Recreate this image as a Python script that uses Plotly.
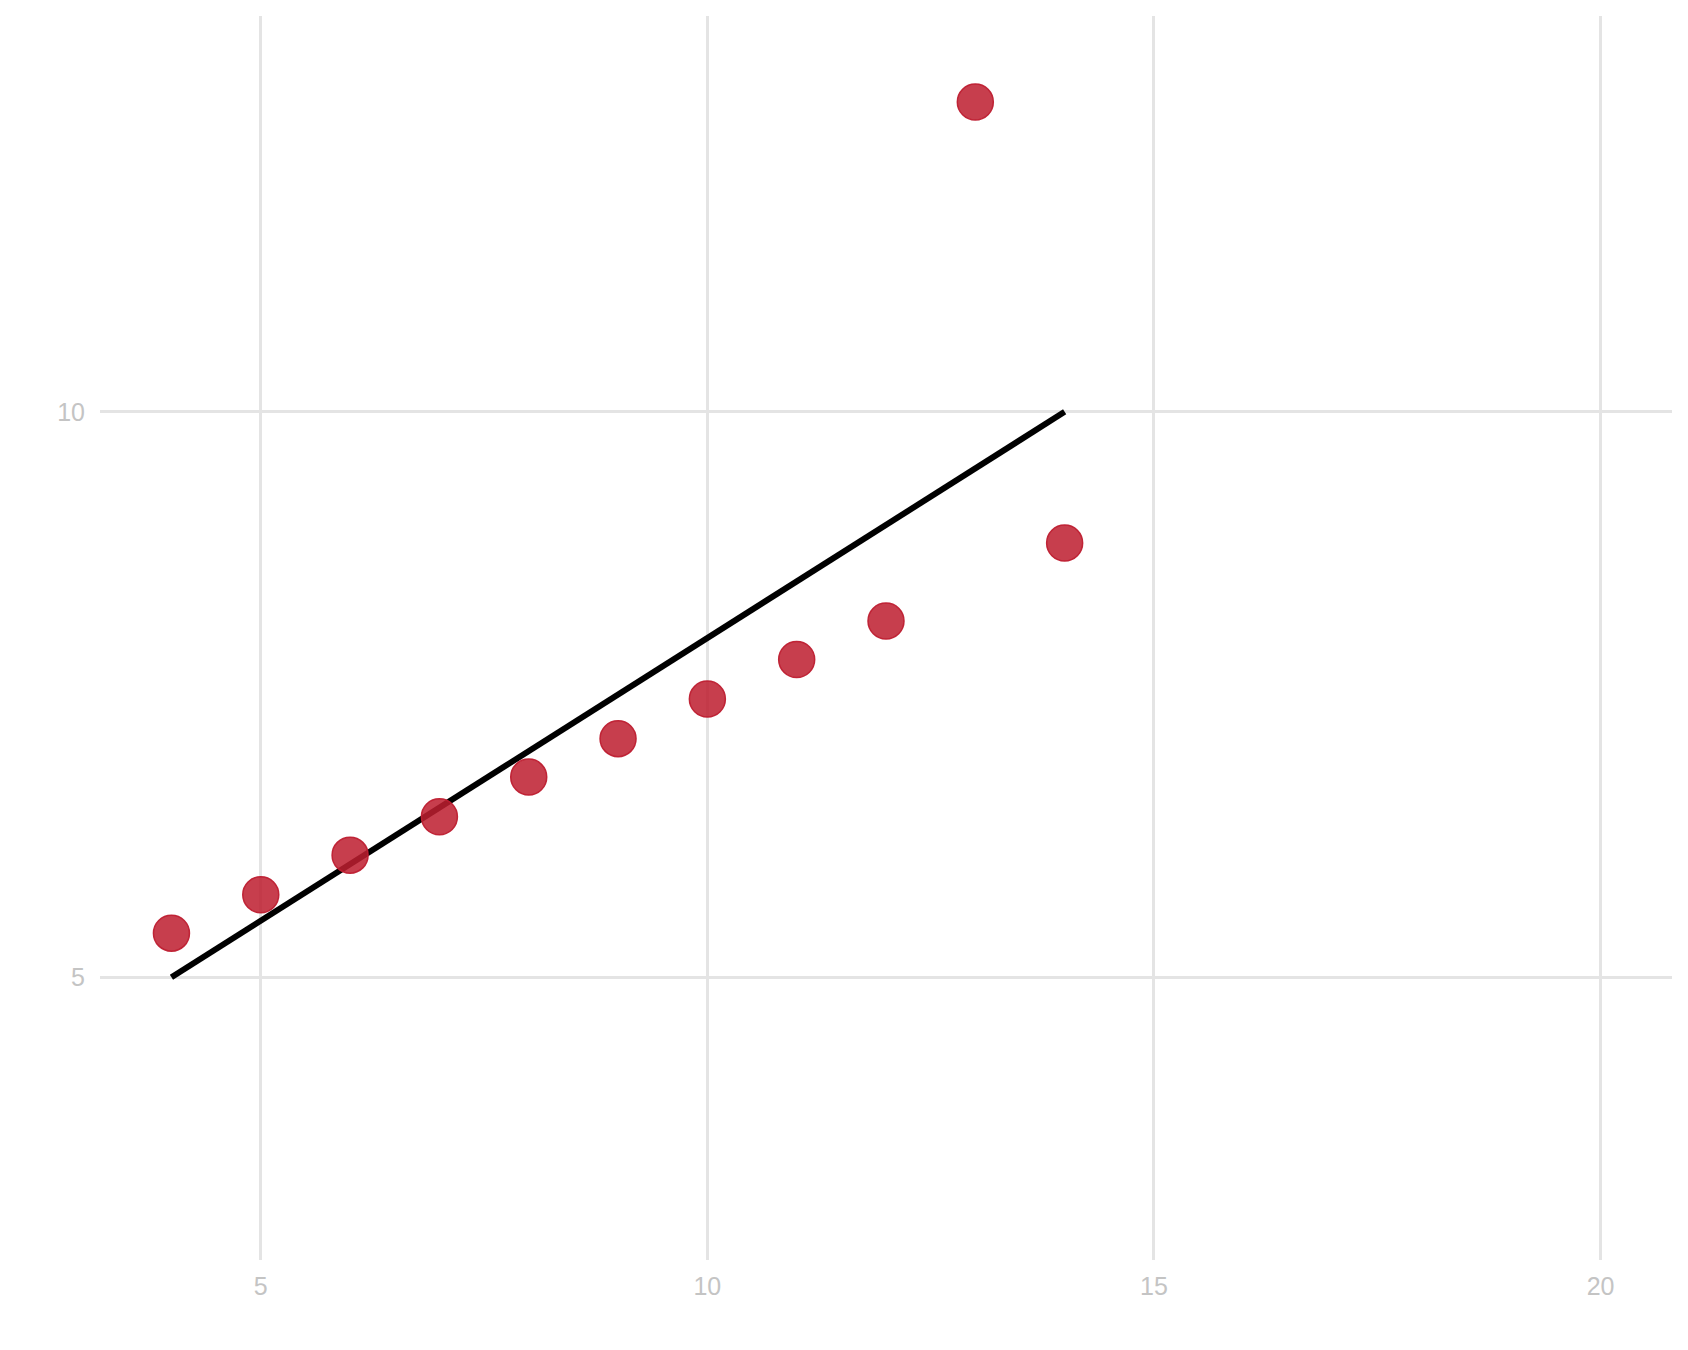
import plotly.graph_objects as go

# Anscombe's quartet, set III
x_vals = [10, 8, 13, 9, 11, 14, 6, 4, 12, 7, 5]
y_vals = [7.46, 6.77, 12.74, 7.11, 7.81, 8.84, 6.08, 5.39, 8.15, 6.42, 5.73]

# fitted line y = 3 + 0.5x, drawn over the data span
fit_x = [4, 14]
fit_y = [5, 10]

x_ticks = [5, 10, 15, 20]
y_ticks = [5, 10]

fig = go.Figure()
fig.add_trace(
    go.Scatter(
        x=fit_x,
        y=fit_y,
        mode='lines',
        line=dict(color='#000000', width=6),
        hoverinfo='skip',
    )
)
fig.add_trace(
    go.Scatter(
        x=x_vals,
        y=y_vals,
        mode='markers',
        marker=dict(
            size=36,
            color='rgba(190,30,48,0.86)',
            line=dict(color='rgba(190,30,48,0.95)', width=1.5),
        ),
    )
)

fig.update_layout(
    width=1688,
    height=1350,
    showlegend=False,
    plot_bgcolor='#ffffff',
    paper_bgcolor='#ffffff',
    margin=dict(l=92, r=24, t=8, b=98),
    font=dict(family='Liberation Sans, Arial, sans-serif', size=25, color='#c4c4c4'),
)

axes_config = {
    'zeroline': False,
    'showline': False,
    'showgrid': True,
    'gridcolor': '#e4e4e4',
    'gridwidth': 2.5,
    'ticks': '',
}
fig.update_xaxes(range=[3.2, 20.8], tickvals=x_ticks, ticklabelstandoff=9, **axes_config)
fig.update_yaxes(range=[2.5, 13.5], tickvals=y_ticks, ticklabelstandoff=14, **axes_config)

fig.write_html("out.html")
